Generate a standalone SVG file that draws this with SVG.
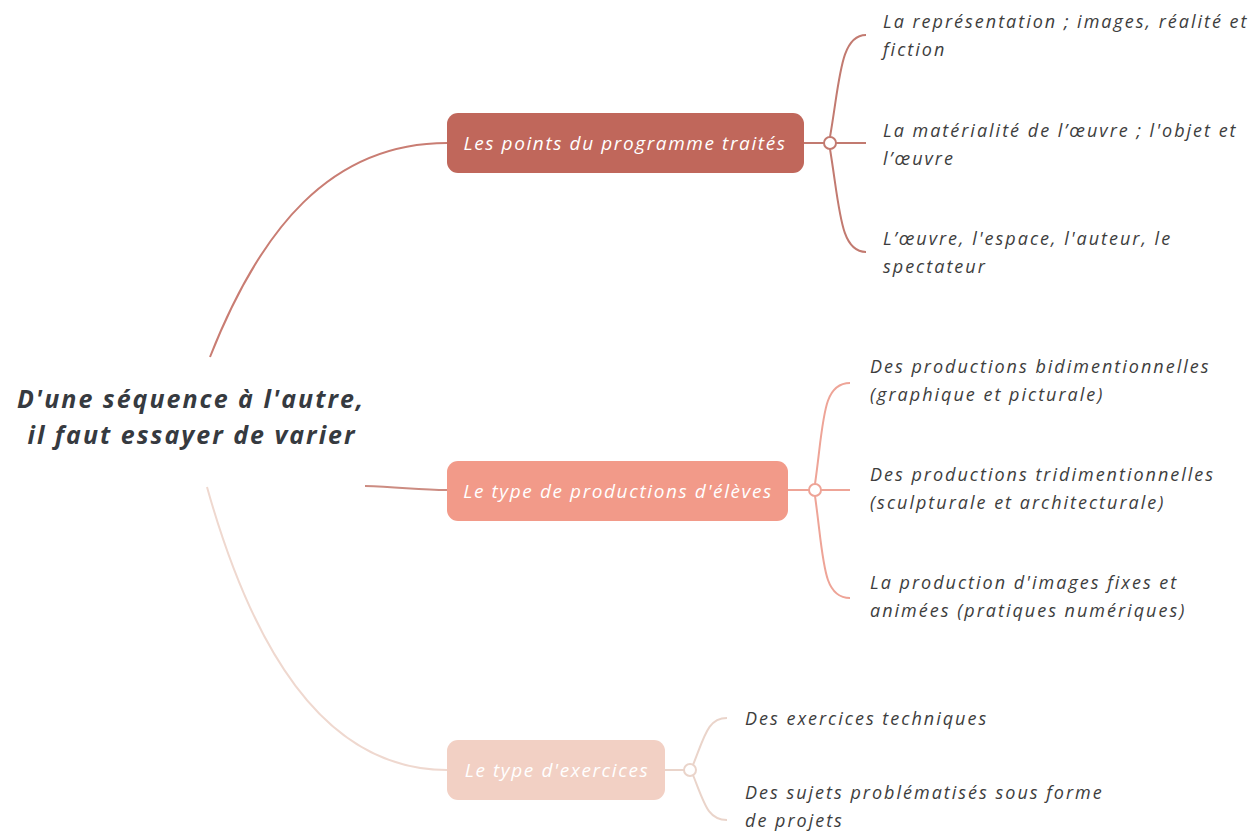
<svg xmlns="http://www.w3.org/2000/svg" width="1258" height="835" viewBox="0 0 1258 835">
<style>
.root{font-family:"Open Sans","Liberation Sans",sans-serif;font-weight:bold;font-style:italic;font-size:25px;letter-spacing:2px;fill:#363a40;text-anchor:middle}
.main{font-family:"Open Sans","Liberation Sans",sans-serif;font-style:italic;font-size:19px;letter-spacing:1.6px;fill:#ffffff;text-anchor:middle}
.leaf{font-family:"Open Sans","Liberation Sans",sans-serif;font-style:italic;font-size:18px;letter-spacing:2px;fill:#3d3d3d}
.ln{fill:none;stroke-width:2}
</style>
<rect width="1258" height="835" fill="#ffffff"/>
<g id="connectors">
  <path class="ln" stroke="#c97d73" d="M210,357 C260,230 330,143 447,143"/>
  <path class="ln" stroke="#cc8c82" d="M365,486 C400,487 420,490 447,490"/>
  <path class="ln" stroke="#efd8cf" d="M207,487 C250,640 320,770 447,770"/>
  <path class="ln" stroke="#c27a70" d="M804,143 H824 M836,143 H866"/>
  <path class="ln" stroke="#c27a70" d="M830,137 C840,80 840,35 866,35"/>
  <path class="ln" stroke="#c27a70" d="M830,149 C840,210 840,252 866,252"/>
  <path class="ln" stroke="#eea497" d="M788,490 H809 M821,490 H850"/>
  <path class="ln" stroke="#eea497" d="M815,484 C824,420 822,383 850,383"/>
  <path class="ln" stroke="#eea497" d="M815,496 C824,560 822,598 850,598"/>
  <path class="ln" stroke="#ead4ca" d="M665,770 H684"/>
  <path class="ln" stroke="#ead4ca" d="M693,765 C705,735 708,718 727,718"/>
  <path class="ln" stroke="#ead4ca" d="M693,775 C705,805 708,820 727,820"/>
  <circle cx="830" cy="143" r="6" fill="#ffffff" stroke="#c27a70" stroke-width="2"/>
  <circle cx="815" cy="490" r="6" fill="#ffffff" stroke="#eea497" stroke-width="2"/>
  <circle cx="690" cy="770" r="6" fill="#ffffff" stroke="#ead4ca" stroke-width="2"/>
</g>
<g id="root">
  <text class="root" x="191" y="408">D'une séquence à l'autre,</text>
  <text class="root" x="192" y="444">il faut essayer de varier</text>
</g>
<g id="node1">
  <rect x="447" y="113" width="357" height="60" rx="11" fill="#c0675b"/>
  <text class="main" x="625" y="150">Les points du programme traités</text>
</g>
<g id="node2">
  <rect x="447" y="461" width="341" height="60" rx="11" fill="#f29a89"/>
  <text class="main" x="618" y="498">Le type de productions d'élèves</text>
</g>
<g id="node3">
  <rect x="447" y="740" width="218" height="60" rx="11" fill="#f2d0c4"/>
  <text class="main" x="557" y="777">Le type d'exercices</text>
</g>
<g id="leaf1a"><text class="leaf" x="883" y="28">La représentation ; images, réalité et</text><text class="leaf" x="883" y="56">fiction</text></g>
<g id="leaf1b"><text class="leaf" x="883" y="137">La matérialité de l’œuvre ; l'objet et</text><text class="leaf" x="883" y="165">l’œuvre</text></g>
<g id="leaf1c"><text class="leaf" x="883" y="245">L’œuvre, l'espace, l'auteur, le</text><text class="leaf" x="883" y="273">spectateur</text></g>
<g id="leaf2a"><text class="leaf" x="870" y="373">Des productions bidimentionnelles</text><text class="leaf" x="870" y="401">(graphique et picturale)</text></g>
<g id="leaf2b"><text class="leaf" x="870" y="481">Des productions tridimentionnelles</text><text class="leaf" x="870" y="509">(sculpturale et architecturale)</text></g>
<g id="leaf2c"><text class="leaf" x="870" y="589">La production d'images fixes et</text><text class="leaf" x="870" y="617">animées (pratiques numériques)</text></g>
<g id="leaf3a"><text class="leaf" x="745" y="725">Des exercices techniques</text></g>
<g id="leaf3b"><text class="leaf" x="745" y="799">Des sujets problématisés sous forme</text><text class="leaf" x="745" y="827">de projets</text></g>
</svg>
